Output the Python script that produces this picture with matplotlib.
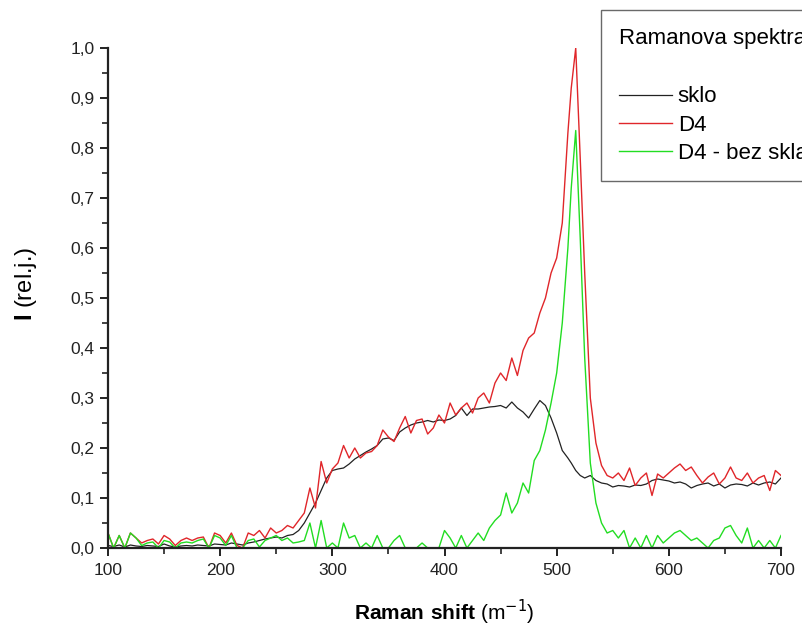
import numpy as np
import matplotlib
matplotlib.use("Agg")
import matplotlib.pyplot as plt
from matplotlib.ticker import MultipleLocator, FuncFormatter

plt.rcParams['font.family'] = ['Liberation Sans', 'DejaVu Sans']
plt.rcParams['mathtext.fontset'] = 'custom'
plt.rcParams['mathtext.rm'] = 'Liberation Sans'
plt.rcParams['mathtext.bf'] = 'Liberation Sans:bold'

# Raman shift values
shift = (list(range(100, 511, 5)) + [513, 517, 521] + list(range(525, 701, 5)))

sklo = [0.005, 0.003, 0.006, 0.002, 0.006, 0.004, 0.003, 0.005, 0.004, 0.003,
        0.008, 0.004, 0.002, 0.004, 0.005, 0.004, 0.006, 0.005, 0.004, 0.008,
        0.007, 0.006, 0.010, 0.008, 0.006, 0.010, 0.012, 0.015, 0.018, 0.020,
        0.022, 0.020, 0.025, 0.027, 0.035, 0.050, 0.070, 0.090, 0.115, 0.140,
        0.155, 0.158, 0.160, 0.168, 0.178, 0.185, 0.192, 0.198, 0.205, 0.218,
        0.220, 0.215, 0.232, 0.240, 0.246, 0.250, 0.252, 0.255, 0.252, 0.256,
        0.255, 0.258, 0.265, 0.280, 0.265, 0.278, 0.278, 0.280, 0.282, 0.283,
        0.285, 0.280, 0.292, 0.280, 0.272, 0.260, 0.278, 0.295, 0.285, 0.260,
        0.230, 0.195, 0.180, 0.170, 0.155, 0.145, 0.140, 0.145, 0.135, 0.130,
        0.128, 0.122, 0.125, 0.124, 0.122, 0.126, 0.125, 0.128, 0.135, 0.138,
        0.136, 0.134, 0.130, 0.132, 0.128, 0.120, 0.125, 0.128, 0.130, 0.124,
        0.128, 0.120, 0.126, 0.128, 0.127, 0.124, 0.130, 0.126, 0.130, 0.132,
        0.128, 0.140]

d4 = [0.030, 0.000, 0.025, 0.000, 0.030, 0.020, 0.010, 0.015, 0.018, 0.008,
      0.025, 0.018, 0.005, 0.015, 0.020, 0.015, 0.020, 0.022, 0.000, 0.030,
      0.025, 0.010, 0.030, 0.005, 0.000, 0.030, 0.025, 0.035, 0.020, 0.040,
      0.030, 0.035, 0.045, 0.040, 0.055, 0.070, 0.120, 0.080, 0.173, 0.130,
      0.158, 0.170, 0.205, 0.180, 0.200, 0.180, 0.190, 0.193, 0.205, 0.236,
      0.222, 0.213, 0.240, 0.263, 0.230, 0.255, 0.258, 0.228, 0.240, 0.266,
      0.250, 0.290, 0.266, 0.280, 0.290, 0.270, 0.300, 0.310, 0.290, 0.330,
      0.350, 0.335, 0.380, 0.345, 0.395, 0.420, 0.430, 0.470, 0.500, 0.550,
      0.580, 0.650, 0.830, 0.920, 1.000, 0.780, 0.550, 0.300, 0.210, 0.165,
      0.145, 0.140, 0.150, 0.135, 0.160, 0.125, 0.140, 0.150, 0.105, 0.148,
      0.140, 0.150, 0.160, 0.168, 0.155, 0.162, 0.145, 0.130, 0.142, 0.150,
      0.128, 0.140, 0.162, 0.140, 0.135, 0.150, 0.130, 0.140, 0.145, 0.115,
      0.155, 0.145]

d4_bez_skla = [0.030, 0.000, 0.025, 0.000, 0.030, 0.020, 0.005, 0.010, 0.012, 0.000,
               0.015, 0.012, 0.000, 0.010, 0.012, 0.010, 0.015, 0.018, 0.000, 0.025,
               0.020, 0.005, 0.025, 0.000, 0.000, 0.015, 0.018, 0.002, 0.015, 0.020,
               0.025, 0.015, 0.020, 0.010, 0.012, 0.015, 0.050, 0.000, 0.055, 0.000,
               0.010, 0.000, 0.050, 0.020, 0.025, 0.000, 0.010, 0.000, 0.025, 0.000,
               0.000, 0.015, 0.025, 0.000, 0.000, 0.000, 0.010, 0.000, 0.000, 0.000,
               0.035, 0.020, 0.000, 0.025, 0.000, 0.015, 0.030, 0.015, 0.040, 0.055,
               0.066, 0.110, 0.070, 0.090, 0.130, 0.110, 0.175, 0.195, 0.236, 0.290,
               0.350, 0.450, 0.600, 0.720, 0.835, 0.620, 0.380, 0.170, 0.090, 0.050,
               0.030, 0.035, 0.020, 0.035, 0.000, 0.020, 0.000, 0.025, 0.000, 0.025,
               0.010, 0.020, 0.030, 0.035, 0.025, 0.015, 0.020, 0.010, 0.000, 0.015,
               0.020, 0.040, 0.045, 0.025, 0.010, 0.040, 0.000, 0.015, 0.000, 0.015,
               0.000, 0.025]

fig = plt.figure(figsize=(8.02, 6.28), dpi=100)
ax = fig.add_axes([108/802, 80/628, (781-108)/802, 500/628])

ax.plot(shift, sklo, color='#222222', lw=0.9, label='sklo')
ax.plot(shift, d4, color='#e0262a', lw=1.0, label='D4')
ax.plot(shift, d4_bez_skla, color='#22dd22', lw=1.0, label='D4 - bez skla')

ax.set_xlim(100, 700)
ax.set_ylim(0, 1.0)
ax.xaxis.set_major_locator(MultipleLocator(100))
ax.xaxis.set_minor_locator(MultipleLocator(50))
ax.yaxis.set_major_locator(MultipleLocator(0.1))
ax.yaxis.set_minor_locator(MultipleLocator(0.05))
ax.yaxis.set_major_formatter(FuncFormatter(lambda v, p: f"{v:.1f}".replace('.', ',')))

for s in ['top', 'right']:
    ax.spines[s].set_visible(False)
for s in ['left', 'bottom']:
    ax.spines[s].set_linewidth(1.6)
    ax.spines[s].set_color('#222222')

ax.tick_params(which='major', direction='out', length=6, width=1.4, labelsize=12.5, colors='#222222')
ax.tick_params(which='minor', direction='out', length=4, width=1.2, colors='#222222')
ax.tick_params(axis='x', pad=5)

ax.set_xlabel(r"$\mathbf{Raman\ shift}$ (m$^{\mathsf{-1}}$)", fontsize=15, labelpad=14)
ax.set_ylabel(r"$\mathbf{I}$ (rel.j.)", fontsize=17)
ax.yaxis.set_label_coords(-0.102, 0.528)

leg = ax.legend(loc='upper left', bbox_to_anchor=(601/802, 1 - 10/628),
                bbox_transform=fig.transFigure, title="Ramanova spektra\n",
                alignment='left', fontsize=16, title_fontsize=16,
                frameon=True, fancybox=False, handlelength=2.4,
                handletextpad=0.25, labelspacing=0.32, borderpad=0.8,
                borderaxespad=0)
leg.get_title().set_linespacing(1.6)
leg.get_frame().set_edgecolor('#444444')
leg.get_frame().set_linewidth(1.0)

fig.savefig('out.png', dpi=100)
